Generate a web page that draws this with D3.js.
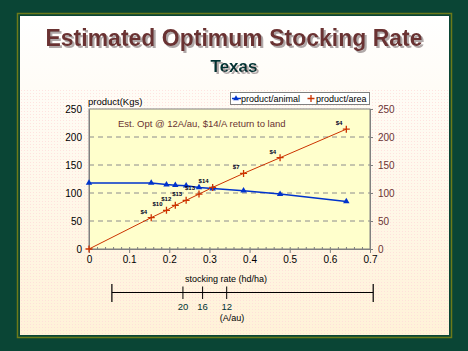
<!DOCTYPE html>
<html>
<head>
<title>Stocking rate</title>
<script src="https://cdn.jsdelivr.net/npm/d3@7"></script>
<style>
  body { margin: 0; background: #0a4535; }
  svg text { font-family: "Liberation Sans", Arial, sans-serif; }
  .axis path, .axis line { stroke: #808080; }
  .axis text { font-size: 10px; }
</style>
</head>
<body>
<svg id="chart"></svg>
<script>
var rates = [0, 0.155, 0.193, 0.215, 0.242, 0.274, 0.308, 0.385, 0.476, 0.641];
var perAnimal = [118, 118, 115, 114, 113, 110, 108, 104, 98, 85];
var perArea = [0, 56, 69, 78, 87, 98, 110, 135, 163, 214];
var returnLabels = ["", "$4", "$10", "$12", "$13", "$13", "$14", "$7", "$4", "$4"];
var xTicks = [0, 0.1, 0.2, 0.3, 0.4, 0.5, 0.6, 0.7];
var yTicks = [0, 50, 100, 150, 200, 250];
var acreTicks = [20, 16, 12];
var acreRates = [0.234, 0.283, 0.343];
var rulerEnds = [0.057, 0.708];

var W = 468, H = 351;
var svg = d3.select("#chart").attr("width", W).attr("height", H);

// frame + panel
var defs = svg.append("defs");
var grad = defs.append("linearGradient").attr("id", "panel").attr("x1", 0).attr("y1", 0).attr("x2", 0).attr("y2", 1);
grad.append("stop").attr("offset", "0%").attr("stop-color", "#ffffff");
grad.append("stop").attr("offset", "100%").attr("stop-color", "#fff2d8");
var dots = defs.append("pattern").attr("id", "dots").attr("width", 3).attr("height", 3).attr("patternUnits", "userSpaceOnUse");
dots.append("rect").attr("width", 1).attr("height", 1).attr("fill", "#ffd8d8");
var shadow = defs.append("filter").attr("id", "shadow").attr("x", "-5%").attr("y", "-20%").attr("width", "115%").attr("height", "150%");
shadow.append("feFlood").attr("flood-color", "#b0a8a8");
shadow.append("feComposite").attr("in2", "SourceAlpha").attr("operator", "in");
shadow.append("feOffset").attr("dx", 2).attr("dy", 2).attr("result", "sh");
var merge = shadow.append("feMerge");
merge.append("feMergeNode").attr("in", "sh");
merge.append("feMergeNode").attr("in", "SourceGraphic");

svg.append("rect").attr("width", W).attr("height", H).attr("fill", "#0a4535");
svg.append("rect").attr("x", 17.5).attr("y", 13.5).attr("width", 434).attr("height", 324)
  .attr("fill", "none").attr("stroke", "#6b7a1a").attr("stroke-width", 1.5);
svg.append("rect").attr("x", 20).attr("y", 16).attr("width", 429).attr("height", 319).attr("fill", "url(#panel)");
svg.append("rect").attr("x", 20).attr("y", 90).attr("width", 429).attr("height", 245).attr("fill", "url(#dots)").attr("opacity", 0.7);

// titles
svg.append("text").attr("x", 234).attr("y", 46).attr("text-anchor", "middle").attr("filter", "url(#shadow)")
  .attr("font-size", 23).attr("font-weight", "bold").attr("fill", "#6b3333").text("Estimated Optimum Stocking Rate");
svg.append("text").attr("x", 234).attr("y", 72).attr("text-anchor", "middle").attr("filter", "url(#shadow)")
  .attr("font-size", 17).attr("font-weight", "bold").attr("fill", "#003333").text("Texas");

var x = d3.scaleLinear().domain([0, 0.7]).range([89, 370]);
var y = d3.scaleLinear().domain([0, 250]).range([249, 109]);

svg.append("rect").attr("x", 89).attr("y", 109).attr("width", 281).attr("height", 140)
  .attr("fill", "#ffffcc").attr("stroke", "#808080");

svg.selectAll(".grid").data(yTicks.slice(1, -1)).enter().append("line")
  .attr("x1", 89).attr("x2", 370).attr("y1", d => y(d)).attr("y2", d => y(d))
  .attr("stroke", "#8c8c8c").attr("stroke-dasharray", "5,4");

// axes
var xAxis = svg.append("g").attr("class", "axis").attr("transform", "translate(0,249)")
  .call(d3.axisBottom(x).tickValues(xTicks).tickSize(4).tickFormat(d3.format("")));
xAxis.selectAll("text").attr("fill", "#000");
svg.append("g").attr("class", "axis").attr("transform", "translate(0,249)")
  .call(d3.axisTop(x).tickValues(d3.range(0.02, 0.7, 0.02)).tickSize(2).tickFormat(""))
  .select(".domain").remove();

var yLeft = svg.append("g").attr("class", "axis").attr("transform", "translate(89,0)")
  .call(d3.axisLeft(y).tickValues(yTicks).tickSize(0).tickPadding(7));
yLeft.selectAll("text").attr("fill", "#000");
var yRight = svg.append("g").attr("class", "axis").attr("transform", "translate(370,0)")
  .call(d3.axisRight(y).tickValues(yTicks).tickSize(3).tickPadding(5));
yRight.selectAll("text").attr("fill", "#6b3333");

svg.append("text").attr("x", 88).attr("y", 105).attr("font-size", 9.5).attr("fill", "#000").text("product(Kgs)");
svg.append("text").attr("x", 118).attr("y", 127).attr("font-size", 9.5).attr("fill", "#6b3333")
  .text("Est. Opt @ 12A/au, $14/A return to land");

// series
var pts = rates.map((r, i) => ({r: r, a: perAnimal[i], b: perArea[i], lab: returnLabels[i]}));
svg.append("path").datum(pts).attr("fill", "none").attr("stroke", "#0033cc").attr("stroke-width", 1.5)
  .attr("d", d3.line().x(d => x(d.r)).y(d => y(d.a)));
svg.append("path").datum(pts).attr("fill", "none").attr("stroke", "#cc3300").attr("stroke-width", 1)
  .attr("d", d3.line().x(d => x(d.r)).y(d => y(d.b)));

svg.selectAll(".tri").data(pts).enter().append("path")
  .attr("transform", d => "translate(" + x(d.r) + "," + y(d.a) + ")")
  .attr("d", d3.symbol().type(d3.symbolTriangle).size(18)).attr("fill", "#0033cc");
svg.selectAll(".plus").data(pts).enter().append("path")
  .attr("transform", d => "translate(" + x(d.r) + "," + y(d.b) + ")")
  .attr("d", "M-3.5,0H3.5M0,-3.5V3.5").attr("stroke", "#cc3300").attr("stroke-width", 1.3);

svg.selectAll(".lab").data(pts.filter(d => d.lab)).enter().append("text")
  .attr("x", d => x(d.r) - 4).attr("y", d => y(d.b) - 4).attr("text-anchor", "end")
  .attr("font-size", 6).attr("font-weight", "bold").attr("fill", "#000022").text(d => d.lab);

// legend
svg.append("rect").attr("x", 230.5).attr("y", 92.5).attr("width", 139).attr("height", 12)
  .attr("fill", "#fff").attr("stroke", "#808080");
svg.append("line").attr("x1", 232).attr("x2", 241).attr("y1", 98.5).attr("y2", 98.5).attr("stroke", "#0033cc").attr("stroke-width", 1.5);
svg.append("path").attr("transform", "translate(236,98.5)").attr("d", d3.symbol().type(d3.symbolTriangle).size(14)).attr("fill", "#0033cc");
svg.append("text").attr("x", 241).attr("y", 102).attr("font-size", 9).attr("fill", "#000").text("product/animal");
svg.append("path").attr("transform", "translate(311,98.5)").attr("d", "M-3.5,0H3.5M0,-3.5V3.5").attr("stroke", "#cc3300").attr("stroke-width", 1.3);
svg.append("text").attr("x", 316).attr("y", 102).attr("font-size", 9).attr("fill", "#000").text("product/area");

svg.append("text").attr("x", 226).attr("y", 282).attr("text-anchor", "middle").attr("font-size", 9)
  .attr("fill", "#000").text("stocking rate (hd/ha)");

// acres per au ruler
svg.append("line").attr("x1", x(rulerEnds[0])).attr("x2", x(rulerEnds[1])).attr("y1", 292.5).attr("y2", 292.5).attr("stroke", "#000");
svg.selectAll(".end").data(rulerEnds).enter().append("line")
  .attr("x1", d => x(d)).attr("x2", d => x(d)).attr("y1", 284).attr("y2", 302).attr("stroke", "#000").attr("stroke-width", 1.2);
svg.selectAll(".at").data(acreRates).enter().append("line")
  .attr("x1", d => x(d)).attr("x2", d => x(d)).attr("y1", 286.5).attr("y2", 299).attr("stroke", "#000");
svg.selectAll(".al").data(acreRates).enter().append("text")
  .attr("x", d => x(d)).attr("y", 310).attr("text-anchor", "middle").attr("font-size", 9.5)
  .attr("fill", "#003333").text((d, i) => acreTicks[i]);
svg.append("text").attr("x", 232).attr("y", 321).attr("text-anchor", "middle").attr("font-size", 9)
  .attr("fill", "#000").text("(A/au)");
</script>
</body>
</html>
